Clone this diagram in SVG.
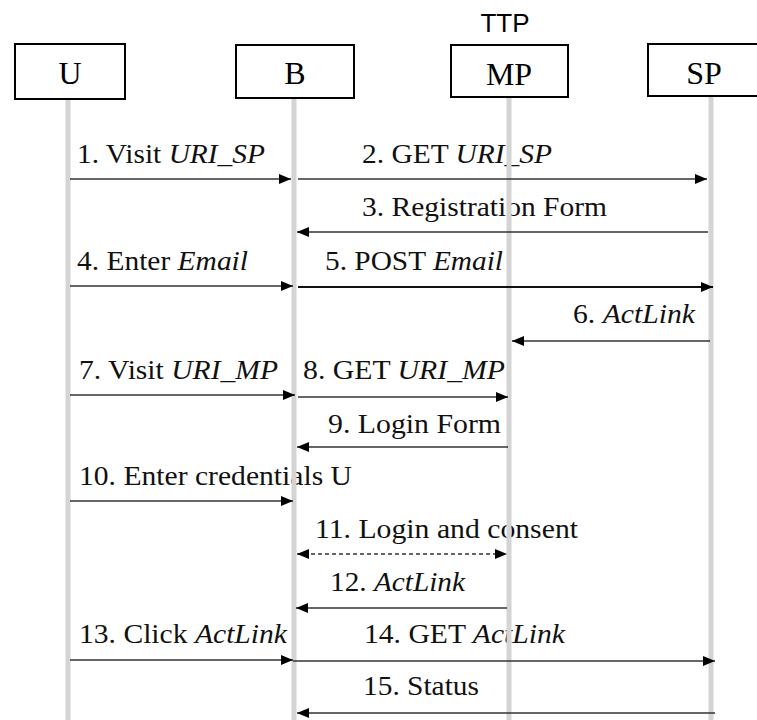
<svg xmlns="http://www.w3.org/2000/svg" width="757" height="720" viewBox="0 0 757 720">
<defs>
<style>
.box{fill:#fff;stroke:#000;stroke-width:2}
.life{stroke:#d4d4d4;stroke-width:5}
.name{font-family:"Liberation Serif","Times New Roman",serif;font-size:32px;fill:#000;text-anchor:middle}
.lbl{font-family:"Liberation Serif","Times New Roman",serif;font-size:28px;fill:#111}
.it{font-style:italic}
.msg{stroke:#333;stroke-width:1.4;fill:none;marker-end:url(#ah)}
.thick{stroke-width:2.2;stroke:#111}
.dash{stroke-dasharray:4 3;marker-start:url(#ah)}
</style>
<marker id="ah" viewBox="0 0 12 10" refX="12" refY="5" markerWidth="12" markerHeight="10" markerUnits="userSpaceOnUse" orient="auto-start-reverse">
<path d="M0,0 L12,5 L0,10 z" fill="#000"/>
</marker>
</defs>
<rect width="757" height="720" fill="#fff"/>
<g id="labels">
<text class="lbl" x="77" y="163" textLength="188" lengthAdjust="spacingAndGlyphs">1. Visit <tspan class="it">URI_SP</tspan></text>
<text class="lbl" x="362" y="163" textLength="190" lengthAdjust="spacingAndGlyphs">2. GET <tspan class="it">URI_SP</tspan></text>
<text class="lbl" x="362" y="216" textLength="245" lengthAdjust="spacingAndGlyphs">3. Registration Form</text>
<text class="lbl" x="77" y="270" textLength="171" lengthAdjust="spacingAndGlyphs">4. Enter <tspan class="it">Email</tspan></text>
<text class="lbl" x="325" y="270" textLength="178" lengthAdjust="spacingAndGlyphs">5. POST <tspan class="it">Email</tspan></text>
<text class="lbl" x="573" y="323" textLength="122" lengthAdjust="spacingAndGlyphs">6. <tspan class="it">ActLink</tspan></text>
<text class="lbl" x="79" y="379" textLength="199" lengthAdjust="spacingAndGlyphs">7. Visit <tspan class="it">URI_MP</tspan></text>
<text class="lbl" x="303" y="379" textLength="202" lengthAdjust="spacingAndGlyphs">8. GET <tspan class="it">URI_MP</tspan></text>
<text class="lbl" x="328" y="433" textLength="173" lengthAdjust="spacingAndGlyphs">9. Login Form</text>
<text class="lbl" x="79" y="485" textLength="273" lengthAdjust="spacingAndGlyphs">10. Enter credentials U</text>
<text class="lbl" x="315" y="538" textLength="263" lengthAdjust="spacingAndGlyphs">11. Login and consent</text>
<text class="lbl" x="330" y="591" textLength="135" lengthAdjust="spacingAndGlyphs">12. <tspan class="it">ActLink</tspan></text>
<text class="lbl" x="79" y="643" textLength="208" lengthAdjust="spacingAndGlyphs">13. Click <tspan class="it">ActLink</tspan></text>
<text class="lbl" x="364" y="643" textLength="201" lengthAdjust="spacingAndGlyphs">14. GET <tspan class="it">ActLink</tspan></text>
<text class="lbl" x="363" y="695" textLength="116" lengthAdjust="spacingAndGlyphs">15. Status</text>
</g>
<g id="U">
<line class="life" x1="68" y1="99" x2="68" y2="720"/>
<rect class="box" x="15" y="44" width="110" height="55"/>
<text class="name" x="70" y="84">U</text>
</g>
<g id="B">
<line class="life" x1="294" y1="98" x2="294" y2="720"/>
<rect class="box" x="236" y="45" width="118" height="53"/>
<text class="name" x="295" y="84">B</text>
</g>
<g id="MP">
<text x="505" y="32" font-family="Liberation Sans, Arial, sans-serif" font-size="26" text-anchor="middle" fill="#000">TTP</text>
<line class="life" x1="509" y1="97" x2="509" y2="720"/>
<rect class="box" x="451" y="45" width="117" height="52"/>
<text class="name" x="509" y="85">MP</text>
</g>
<g id="SP">
<line class="life" x1="711" y1="96" x2="711" y2="720"/>
<rect class="box" x="648" y="44" width="130" height="52"/>
<text class="name" x="704" y="84">SP</text>
</g>
<g id="connectors">
<line class="msg" x1="70" y1="179" x2="291" y2="179"/>
<line class="msg" x1="298" y1="179" x2="707" y2="179"/>
<line class="msg" x1="708" y1="232" x2="297" y2="232"/>
<line class="msg" x1="70" y1="286" x2="293" y2="286"/>
<line class="msg thick" x1="298" y1="287" x2="713" y2="287"/>
<line class="msg" x1="710" y1="341" x2="512" y2="341"/>
<line class="msg" x1="70" y1="395" x2="295" y2="395"/>
<line class="msg" x1="298" y1="397" x2="508" y2="397"/>
<line class="msg" x1="508" y1="447" x2="297" y2="447"/>
<line class="msg" x1="70" y1="501" x2="293" y2="501"/>
<line class="msg dash" x1="297" y1="554" x2="507" y2="554"/>
<line class="msg" x1="507" y1="608" x2="296" y2="608"/>
<line class="msg" x1="70" y1="660" x2="293" y2="660"/>
<line class="msg" x1="293" y1="661" x2="715" y2="661"/>
<line class="msg" x1="715" y1="713" x2="297" y2="713"/>
</g>
</svg>
